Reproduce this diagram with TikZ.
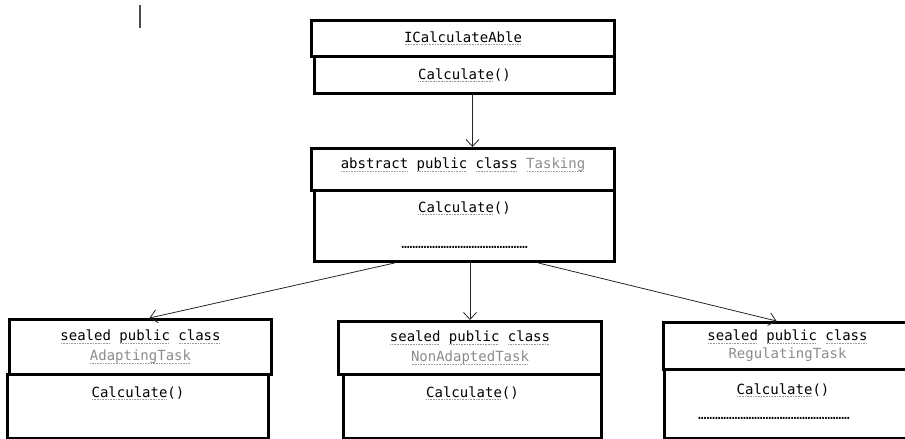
\documentclass[tikz,border=0pt]{standalone}
\usepackage{fontspec}
\setmonofont{DejaVu Sans Mono}
\usepackage{xcolor}
\usetikzlibrary{positioning,arrows.meta}

\definecolor{namegray}{gray}{0.55}
% dotted spell-check underline
\newcommand{\sq}[1]{\setbox0\hbox{#1}%
  \rlap{\color{black!40}\raisebox{-2.6pt}{\hbox to \wd0{\cleaders\hbox{\rule{0.9pt}{0.9pt}\kern0.7pt}\hfill}}}\box0\relax}

\begin{document}
\begin{tikzpicture}[
    x=1pt, y=-1pt,
    font=\ttfamily\fontsize{14}{20}\selectfont,
    box/.style={rectangle, draw, line width=3pt, anchor=north west, align=center, inner sep=0pt},
    txt/.style={inner sep=0pt, anchor=base},
    arrow/.style={-{Straight Barb[length=7pt,width=13pt]}, line width=0.8pt, black!85}
]
\clip (0,0) rectangle (905,439);

% Cursor
\draw[line width=1.6pt, black!70] (140,5) -- (140,28);

% Interface
\node[box, minimum width=303, minimum height=36] (ihdr) at (310,19) {\sq{ICalculateAble}};
\node[box, minimum width=300, minimum height=37] (ibody) at (313,55) {\sq{Calculate}()};

% Abstract class
\node[box, minimum width=303, minimum height=42, text depth=12pt] (thdr) at (310,147)
    {\sq{abstract} \sq{public} \sq{class} \textcolor{namegray}{\sq{Tasking}}};
\node[box, minimum width=300, minimum height=71] (tbody) at (313,189) {};
\node[txt] (tcalc) at ([yshift=-23pt]tbody.north) {\sq{Calculate}()};
\node[txt] (tdots) at ([yshift=-36.5pt]tcalc.base) {………………………………………};

% Sealed classes
\node[box, minimum width=262, minimum height=55] (ahdr) at (8,318)
    {\sq{sealed} \sq{public} \sq{class}\\\textcolor{namegray}{\sq{AdaptingTask}}};
\node[box, minimum width=261, minimum height=64] (abody) at (6,373) {};
\node[txt] (acalc) at ([yshift=-24pt]abody.north) {\sq{Calculate}()};

\node[box, minimum width=263, minimum height=53] (nhdr) at (337,320)
    {\sq{sealed} \sq{public} \sq{class}\\\textcolor{namegray}{\sq{NonAdaptedTask}}};
\node[box, minimum width=258, minimum height=64] (nbody) at (342,373) {};
\node[txt] (ncalc) at ([yshift=-24pt]nbody.north) {\sq{Calculate}()};

\node[box, minimum width=248, minimum height=47] (rhdr) at (662,321)
    {\sq{sealed} \sq{public} \sq{class}\\[-2pt]\textcolor{namegray}{RegulatingTask}};
\node[box, minimum width=247, minimum height=69] (rbody) at (663,368) {};
\node[txt] (rcalc) at ([xshift=-5pt,yshift=-26pt]rbody.north) {\sq{Calculate}()};
\node[txt] (rdots) at ([xshift=-9pt,yshift=-25pt]rcalc.base) {………………………………………………};

% Arrows
\draw[arrow] ([xshift=8pt]ibody.south) -- ([xshift=8pt]ibody.south |- thdr.north);
\draw[arrow] ([xshift=-70pt]tbody.south) -- ([xshift=9pt]ahdr.north);
\draw[arrow] (tbody.south -| nhdr.north) -- (nhdr.north);
\draw[arrow] ([xshift=74pt]tbody.south) -- ([xshift=-11pt]rhdr.north);

\end{tikzpicture}
\end{document}
